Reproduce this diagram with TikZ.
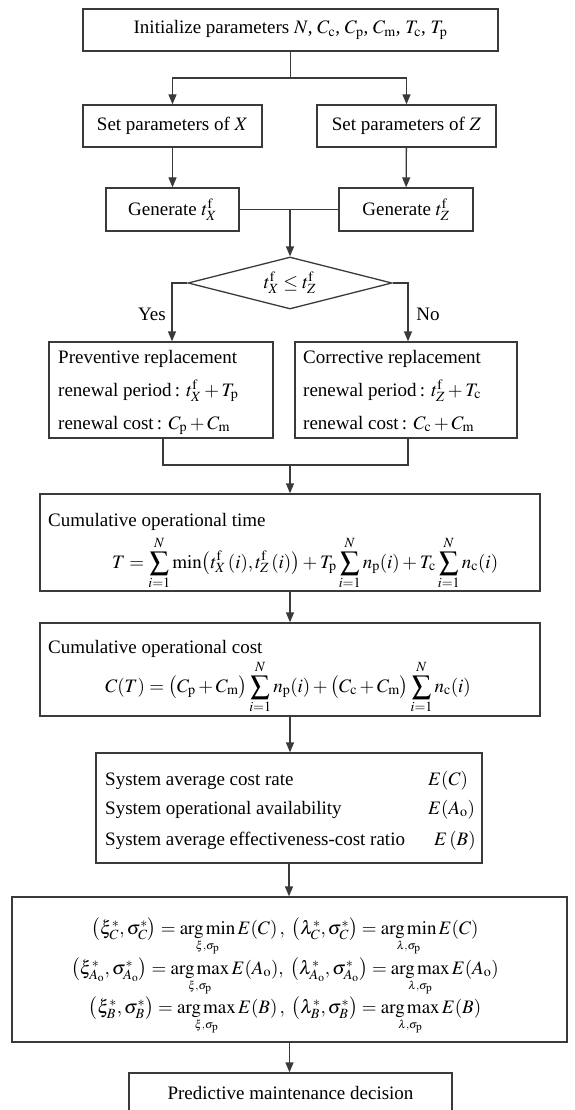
\documentclass[tikz,border=0pt]{standalone}
\usepackage{amsmath}
\usepackage{mathptmx}
\usepackage{fontspec}
\setmainfont{Liberation Serif}
\usetikzlibrary{arrows.meta,shapes.geometric,calc}
\definecolor{linec}{HTML}{3A3A3A}
\tikzset{
  box/.style={draw=linec, line width=1.3pt, inner sep=0pt},
  arr/.style={draw=linec, line width=1.3pt, -{Triangle[length=10pt,width=8pt]}},
  conn/.style={draw=linec, line width=1.3pt},
  txt/.style={anchor=base west, inner sep=0pt},
  ctxt/.style={anchor=base, inner sep=0pt}
}
\newcommand{\rmsub}[1]{\mathrm{#1}}
\newcommand{\optop}[2]{\mathop{\mathrm{arg}\,\mathrm{#1}}\limits_{\scriptscriptstyle #2}}
\begin{document}
\begin{tikzpicture}[x=1pt,y=-1pt,font=\fontsize{19}{23}\selectfont]
\useasboundingbox (0,0) rectangle (574,1110);

% top box
\node[box, minimum width=415pt, minimum height=42pt] (init) at (290.5,30)
  {Initialize parameters $N$, $C_{\rmsub c}$, $C_{\rmsub p}$, $C_{\rmsub m}$, $T_{\rmsub c}$, $T_{\rmsub p}$};
\coordinate (split) at (290.5,78);

\node[box, minimum width=179pt, minimum height=42pt] (setx) at (172.5,126) {Set parameters of $X$};
\node[box, minimum width=179pt, minimum height=42pt] (setz) at (406.5,126) {Set parameters of $Z$};
\node[box, minimum width=133pt, minimum height=43pt] (genx) at (172.5,209.5) {Generate $t^{\rmsub f}_X$};
\node[box, minimum width=134pt, minimum height=43pt] (genz) at (406,209.5) {Generate $t^{\rmsub f}_Z$};
\coordinate (join1) at (290,209.5);

\node[diamond, aspect=3.9, draw=linec, line width=1.3pt, inner sep=0pt,
      minimum width=204pt, minimum height=52pt] (dia) at (290,283)
  {$t^{\rmsub f}_X\le t^{\rmsub f}_Z$};

\node (yes) at (152,314) {Yes};
\node (no) at (428,314) {No};

% replacement boxes
\node[box, minimum width=224pt, minimum height=96pt] (prev) at (161,390) {};
\node[box, minimum width=222pt, minimum height=96pt] (corr) at (406,390) {};
\node[txt] (p1) at (58,363) {Preventive replacement};
\node[txt] (p2) at (58,396) {renewal period\,: $t^{\rmsub f}_X+T_{\rmsub p}$};
\node[txt] (p3) at (58,429) {renewal cost\,: $C_{\rmsub p}+C_{\rmsub m}$};
\node[txt] (c1) at (303,363) {Corrective replacement};
\node[txt] (c2) at (303,396) {renewal period\,: $t^{\rmsub f}_Z+T_{\rmsub c}$};
\node[txt] (c3) at (303,429) {renewal cost\,: $C_{\rmsub c}+C_{\rmsub m}$};
\coordinate (join2) at (290,465);

% cumulative time
\node[box, minimum width=500pt, minimum height=97pt] (ctime) at (290,542.5) {};
\node[txt] (ct1) at (48,526) {Cumulative operational time};
\node[txt] (ct2) at (112,568) {$\displaystyle T=\sum_{i=1}^{N}\min\bigl(t^{\rmsub f}_X\,(i),t^{\rmsub f}_Z\,(i)\bigr)+T_{\rmsub p}\sum_{i=1}^{N}n_{\rmsub p}(i)+T_{\rmsub c}\sum_{i=1}^{N}n_{\rmsub c}(i)$};

% cumulative cost
\node[box, minimum width=500pt, minimum height=93pt] (ccost) at (290,669.5) {};
\node[txt] (cc1) at (48,653) {Cumulative operational cost};
\node[txt] (cc2) at (105,692) {$\displaystyle C(T)=\bigl(C_{\rmsub p}+C_{\rmsub m}\bigr)\sum_{i=1}^{N}n_{\rmsub p}(i)+\bigl(C_{\rmsub c}+C_{\rmsub m}\bigr)\sum_{i=1}^{N}n_{\rmsub c}(i)$};

% system measures
\node[box, minimum width=386pt, minimum height=110pt] (sys) at (289,808) {};
\node[txt] (s1) at (105,785) {System average cost rate};
\node[txt] (s2) at (105,814) {System operational availability};
\node[txt] (s3) at (105,845) {System average effectiveness-cost ratio};
\node[txt] (e1) at (428,785) {$E(C)$};
\node[txt] (e2) at (428,814) {$E(A_{\rmsub o})$};
\node[txt] (e3) at (434,845) {$E\,(B)$};

% optimisation
\node[box, minimum width=555pt, minimum height=145pt] (opt) at (289.5,969.5) {};
\node[ctxt] (o1) at (285,934) {$\bigl(\xi^*_C,\sigma^*_C\bigr)=\optop{min}{\xi,\sigma_{\rmsub p}}E(C)\,,\ \bigl(\lambda^*_C,\sigma^*_C\bigr)=\optop{min}{\lambda,\sigma_{\rmsub p}}E(C)$};
\node[ctxt] (o2) at (285,974) {$\bigl(\xi^*_{A_{\rmsub o}},\sigma^*_{A_{\rmsub o}}\bigr)=\optop{max}{\xi,\sigma_{\rmsub p}}E(A_{\rmsub o}),\ \bigl(\lambda^*_{A_{\rmsub o}},\sigma^*_{A_{\rmsub o}}\bigr)=\optop{max}{\lambda,\sigma_{\rmsub p}}E(A_{\rmsub o})$};
\node[ctxt] (o3) at (285,1013) {$\bigl(\xi^*_B,\sigma^*_B\bigr)=\optop{max}{\xi,\sigma_{\rmsub p}}E(B)\,,\ \bigl(\lambda^*_B,\sigma^*_B\bigr)=\optop{max}{\lambda,\sigma_{\rmsub p}}E(B)$};

% final
\node[box, minimum width=323pt, minimum height=39pt] (dec) at (290.5,1092.5) {Predictive maintenance decision};

% connectors
\draw[conn] (init.south) -- (split);
\draw[arr] (split) -| (setx.north);
\draw[arr] (split) -| (setz.north);
\draw[arr] (setx) -- (genx);
\draw[arr] (setz) -- (genz);
\draw[conn] (genx.east) -- (genz.west);
\draw[arr] (join1) -- (dia.north);
\draw[arr] (dia.west) -| ($(prev.north)+(11,0)$);
\draw[arr] (dia.east) -| ($(corr.north)+(2,0)$);
\draw[conn] ($(prev.south)+(2,0)$) |- (join2);
\draw[conn] ($(corr.south)+(2,0)$) |- (join2);
\draw[arr] (join2) -- (ctime.north);
\draw[arr] (ctime) -- (ccost);
\draw[arr] (ccost.south) -- (ccost.south |- sys.north);
\draw[arr] (sys.south) -- (sys.south |- opt.north);
\draw[arr] (opt.south) -- (opt.south |- dec.north);
\end{tikzpicture}
\end{document}
